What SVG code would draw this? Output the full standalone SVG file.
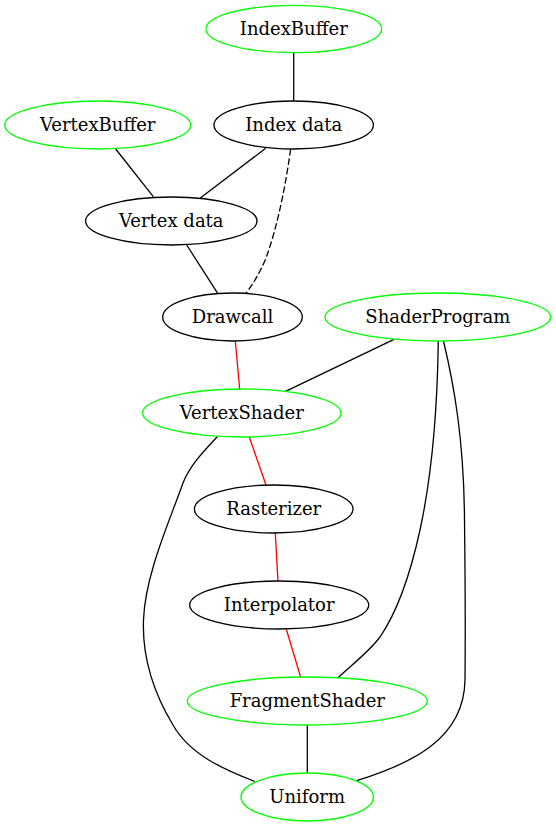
<svg xmlns="http://www.w3.org/2000/svg" width="556" height="827" viewBox="0 0 556 827">
<style>
.n ellipse{fill:none;stroke:#000;stroke-width:1.3}
.g ellipse{stroke:#00ff00}
text{font-family:"DejaVu Serif","Liberation Serif",serif;font-size:18px;text-anchor:middle;fill:#000}
.e path{fill:none;stroke:#000;stroke-width:1.3}
.e path.r{stroke:#ff0000}
.e path.d{stroke-dasharray:6.7,2.7}
</style>
<rect width="556" height="827" fill="#fff"/>
<g id="edges" class="e">
<path d="M293.7,53 L293.7,101"/>
<path d="M115.7,149 L153.3,196.7"/>
<path d="M265.7,148.3 L200,198.3"/>
<path class="d" d="M290.6,149.3 C286,183 278,225 266,258 C259,275 252,285 246,293.5"/>
<path d="M186.7,245 L217.7,293.3"/>
<path class="r" d="M235.3,341.3 L239.7,389.3"/>
<path d="M394,339.3 L285,391.7"/>
<path d="M438.3,341 C437.5,400 433,470 420,530 C408,585 395,615 380,637 C368,653 350,666 337.7,678"/>
<path d="M443.5,341 C454,385 464,440 464.5,520 C465,560 465.5,630 465,680 C464,740 410,764 356.7,780.7"/>
<path d="M217.5,436.5 C205,450 190,465 183,483 C170,520 145,575 143.5,620 C142,660 155,695 173,725 C190,755 225,770 255,781.5"/>
<path class="r" d="M249.3,437 L266,485"/>
<path class="r" d="M275.3,533.3 L278,581"/>
<path class="r" d="M286.3,629.3 L300.7,677.3"/>
<path d="M307.3,725 L307.3,773"/>
</g>
<g id="IndexBuffer" class="n g"><ellipse cx="293.8" cy="29" rx="87.8" ry="23.7"/><text x="293.8" y="35">IndexBuffer</text></g>
<g id="VertexBuffer" class="n g"><ellipse cx="97.7" cy="125" rx="93" ry="24"/><text x="97.7" y="131">VertexBuffer</text></g>
<g id="IndexData" class="n"><ellipse cx="293.7" cy="125" rx="79.7" ry="24"/><text x="293.7" y="131">Index data</text></g>
<g id="VertexData" class="n"><ellipse cx="171.3" cy="221" rx="85.7" ry="24"/><text x="171.3" y="227">Vertex data</text></g>
<g id="Drawcall" class="n"><ellipse cx="232.5" cy="317" rx="69.8" ry="24"/><text x="232.5" y="323">Drawcall</text></g>
<g id="ShaderProgram" class="n g"><ellipse cx="437.8" cy="317" rx="112.8" ry="24"/><text x="437.8" y="323">ShaderProgram</text></g>
<g id="VertexShader" class="n g"><ellipse cx="241.8" cy="413" rx="99.2" ry="24"/><text x="241.8" y="419">VertexShader</text></g>
<g id="Rasterizer" class="n"><ellipse cx="273.7" cy="509" rx="79.3" ry="24"/><text x="273.7" y="515">Rasterizer</text></g>
<g id="Interpolator" class="n"><ellipse cx="279.2" cy="605" rx="89.5" ry="24"/><text x="279.2" y="611">Interpolator</text></g>
<g id="FragmentShader" class="n g"><ellipse cx="307.3" cy="701" rx="120" ry="24"/><text x="307.3" y="707">FragmentShader</text></g>
<g id="Uniform" class="n g"><ellipse cx="307.2" cy="797" rx="66.2" ry="24"/><text x="307.2" y="803">Uniform</text></g>
</svg>
